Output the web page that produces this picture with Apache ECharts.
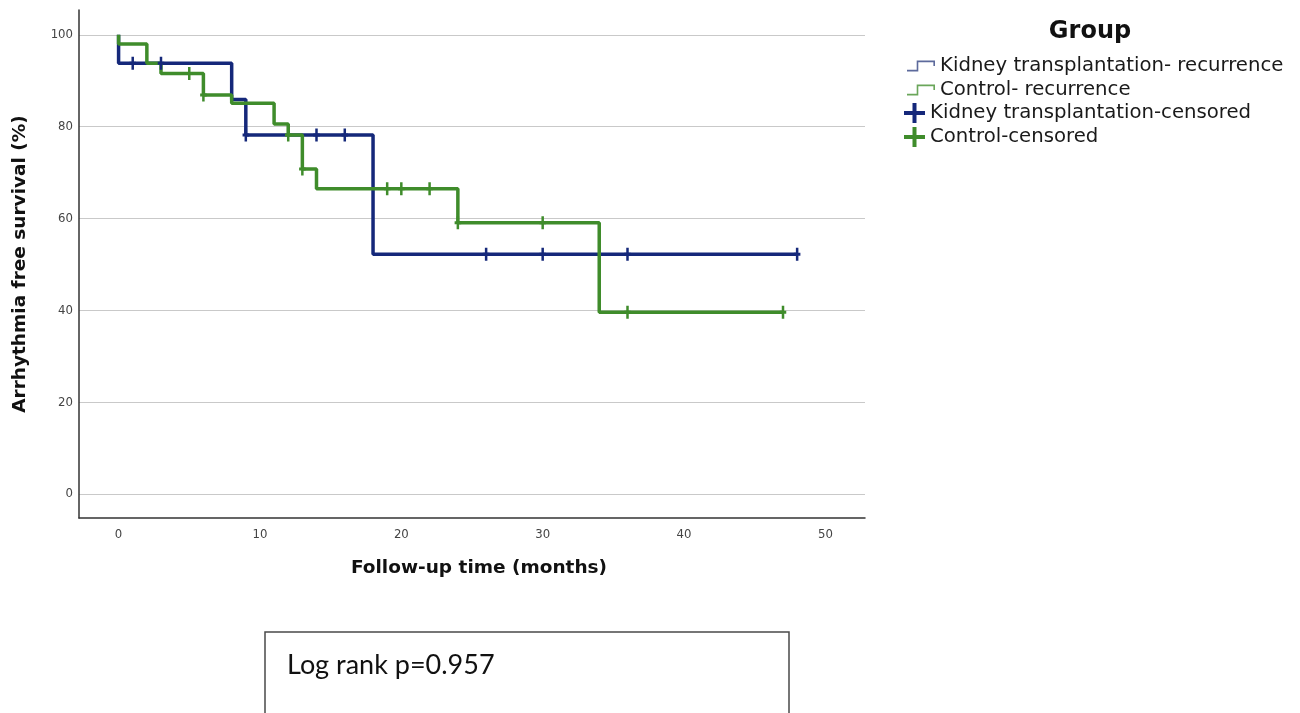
<!DOCTYPE html>
<html>
<head>
<meta charset="utf-8">
<script src="https://cdn.jsdelivr.net/npm/echarts@6/dist/echarts.min.js"></script>
<style>
html,body{margin:0;padding:0;background:#fff;}
#chart{width:1300px;height:713px;}
</style>
</head>
<body>
<div id="chart"></div>
<script>
// ---- data ----
const xTicks = [0, 10, 20, 30, 40, 50];
const yTicks = [0, 20, 40, 60, 80, 100];

// Kidney transplantation: step curve (time, survival %)
const ktTimes = [0, 0, 8, 9, 18, 48];
const ktSurv  = [100, 93.8, 85.9, 78.2, 52.2, 52.2];
// Kidney transplantation: censored points
const ktCensTimes = [1, 3, 9, 14, 16, 26, 30, 36, 48];
const ktCensSurv  = [93.8, 93.8, 78.2, 78.2, 78.2, 52.2, 52.2, 52.2, 52.2];

// Control: step curve
const ctTimes = [0, 0, 2, 3, 6, 8, 11, 12, 13, 14, 24, 34, 47];
const ctSurv  = [100, 98.0, 93.8, 91.6, 86.9, 85.1, 80.6, 78.2, 70.8, 66.5, 59.1, 39.6, 39.6];
// Control: censored points
const ctCensTimes = [5, 6, 12, 13, 19, 20, 22, 24, 30, 36, 47];
const ctCensSurv  = [91.6, 86.9, 78.2, 70.8, 66.5, 66.5, 66.5, 59.1, 59.1, 39.6, 39.6];

const seriesNames = [
  'Kidney transplantation- recurrence',
  'Control- recurrence',
  'Kidney transplantation-censored',
  'Control-censored'
];
const legendTitle = 'Group';
const xName = 'Follow-up time (months)';
const yName = 'Arrhythmia free survival (%)';
const noteText = 'Log rank p=0.957';

// ---- styling ----
const BLUE = '#15287a';
const GREEN = '#3f8c2b';
const zip = (a, b) => a.map((v, i) => [v, b[i]]);

const stepIcon = 'path://M0,8.5 L9,8.5 L9,0 L26,0 L26,5 L24.5,5 L24.5,1.5 L10.5,1.5 L10.5,10 L0,10 Z';
const plusIcon = 'path://M8.5,0 L12.5,0 L12.5,8 L21,8 L21,12 L12.5,12 L12.5,20 L8.5,20 L8.5,12 L0,12 L0,8 L8.5,8 Z';
const censorMark = 'path://M2,0 L4.5,0 L4.5,5 L6.5,5 L6.5,8 L4.5,8 L4.5,13 L2,13 L2,8 L0,8 L0,5 L2,5 Z';

const tickFont = '"DejaVu Sans Condensed", "Liberation Sans Narrow", "DejaVu Sans", sans-serif';
const mainFont = '"DejaVu Sans", sans-serif';

const chart = echarts.init(document.getElementById('chart'), null, {renderer: 'canvas'});
chart.setOption({
  animation: false,
  backgroundColor: '#ffffff',
  title: {
    text: legendTitle,
    left: 1090,
    top: 20,
    padding: 0,
    textAlign: 'center',
    textStyle: {fontFamily: mainFont, fontWeight: 'bold', fontSize: 24, color: '#111'}
  },
  legend: [
    {
      orient: 'vertical',
      left: 907,
      top: 56,
      padding: 0,
      itemWidth: 28,
      itemHeight: 11,
      itemGap: 4,
      selectedMode: false,
      itemStyle: {borderWidth: 0, opacity: 1},
      textStyle: {fontFamily: mainFont, fontSize: 19.7, color: '#1a1a1a', lineHeight: 20},
      data: [
        {name: seriesNames[0], icon: stepIcon, itemStyle: {color: '#5d6a9c', borderWidth: 0, opacity: 1}},
        {name: seriesNames[1], icon: stepIcon, itemStyle: {color: '#6aa65a', borderWidth: 0, opacity: 1}}
      ]
    },
    {
      orient: 'vertical',
      left: 904,
      top: 103,
      padding: 0,
      itemWidth: 21,
      itemHeight: 20,
      itemGap: 4,
      selectedMode: false,
      itemStyle: {borderWidth: 0, opacity: 1},
      textStyle: {fontFamily: mainFont, fontSize: 19.7, color: '#1a1a1a', lineHeight: 20},
      data: [
        {name: seriesNames[2], icon: plusIcon, itemStyle: {color: BLUE, borderWidth: 0, opacity: 1}},
        {name: seriesNames[3], icon: plusIcon, itemStyle: {color: GREEN, borderWidth: 0, opacity: 1}}
      ]
    }
  ],
  grid: {left: 79, right: 435, top: 10, bottom: 195, containLabel: false},
  xAxis: {
    type: 'value',
    min: -2.8,
    max: 52.8,
    name: xName,
    nameLocation: 'middle',
    nameGap: 41,
    nameTextStyle: {fontFamily: mainFont, fontWeight: 'bold', fontSize: 18.5, color: '#111', padding: [0, 0, 0, 14]},
    axisLine: {show: true, onZero: false, lineStyle: {color: '#333', width: 1.5}},
    axisTick: {show: false, customValues: xTicks},
    axisLabel: {customValues: xTicks, margin: 10, fontFamily: tickFont, fontSize: 13, color: '#444'},
    splitLine: {show: false}
  },
  yAxis: {
    type: 'value',
    min: -5.2,
    max: 105.4,
    name: yName,
    nameLocation: 'middle',
    nameGap: 49,
    nameTextStyle: {fontFamily: mainFont, fontWeight: 'bold', fontSize: 18.5, color: '#111'},
    axisLine: {show: true, onZero: false, lineStyle: {color: '#333', width: 1.5}},
    axisTick: {show: false, customValues: yTicks},
    axisLabel: {customValues: yTicks, margin: 6, fontFamily: tickFont, fontSize: 13, color: '#444'},
    splitLine: {show: true, lineStyle: {color: '#c9c9c9', width: 1.2}}
  },
  series: [
    {
      name: seriesNames[0], type: 'line', step: 'end', showSymbol: false,
      data: zip(ktTimes, ktSurv), color: BLUE,
      lineStyle: {color: BLUE, width: 3.5}, z: 2
    },
    {
      name: seriesNames[1], type: 'line', step: 'end', showSymbol: false,
      data: zip(ctTimes, ctSurv), color: GREEN,
      lineStyle: {color: GREEN, width: 3.5}, z: 3
    },
    {
      name: seriesNames[2], type: 'scatter', symbol: censorMark, symbolSize: [6.5, 13],
      data: zip(ktCensTimes, ktCensSurv), color: BLUE,
      itemStyle: {color: BLUE, opacity: 1}, z: 4
    },
    {
      name: seriesNames[3], type: 'scatter', symbol: censorMark, symbolSize: [6.5, 13],
      data: zip(ctCensTimes, ctCensSurv), color: GREEN,
      itemStyle: {color: GREEN, opacity: 1}, z: 5
    }
  ],
  graphic: [
    {
      type: 'rect',
      shape: {x: 265, y: 632, width: 524, height: 120},
      style: {fill: 'none', stroke: '#4a4a4a', lineWidth: 1.5}
    },
    {
      type: 'text',
      x: 287, y: 665,
      style: {text: noteText, font: '27px Lato, "Noto Sans", sans-serif', fill: '#111', verticalAlign: 'middle', align: 'left'}
    }
  ]
});
</script>
</body>
</html>
